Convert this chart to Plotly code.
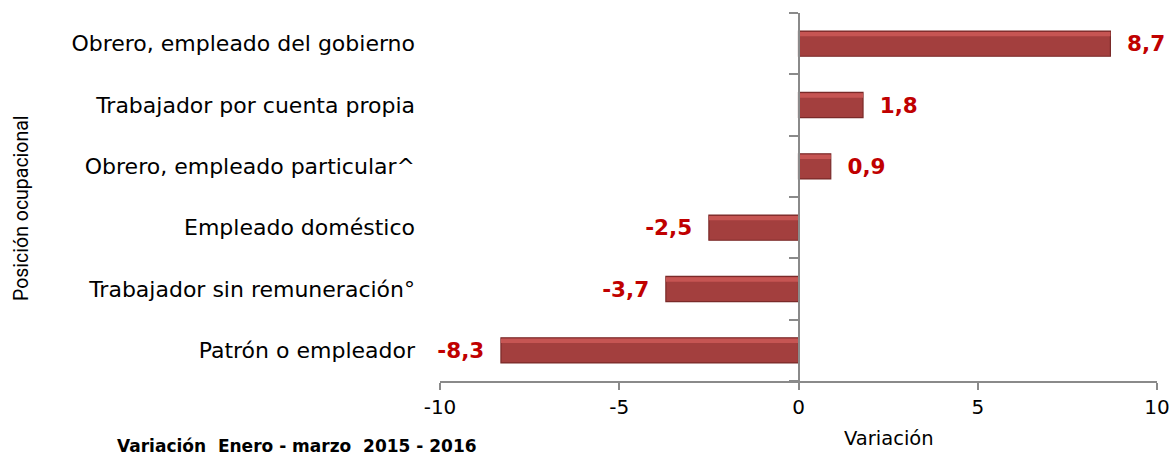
import plotly.graph_objects as go

categories = [
    "Obrero, empleado del gobierno",
    "Trabajador por cuenta propia",
    "Obrero, empleado particular^",
    "Empleado doméstico",
    "Trabajador sin remuneración°",
    "Patrón o empleador",
]
values = [8.7, 1.8, 0.9, -2.5, -3.7, -8.3]
x_ticks = [-10, -5, 0, 5, 10]
x_ticktext = ["-10", "-5", "0", "5", "10"]
boundaries = [-0.5, 0.5, 1.5, 2.5, 3.5, 4.5, 5.5]

NB = "\u00a0"
labels = []
for v in values:
    s = "<b>" + f"{v:.1f}".replace(".", ",") + "</b>"
    labels.append(NB * 2 + s if v >= 0 else s + NB * 2)

W, H = 1173, 458
L, R, T, B = 440, 16, 13, 77
pw, ph = W - L - R, H - T - B

def px(x):
    return (x - L) / pw

def py(y):
    return (H - B - y) / ph

fig = go.Figure()
fig.add_trace(go.Bar(
    y=categories, x=values, orientation="h",
    marker=dict(color="#A33F3E", line=dict(color="#7A2A29", width=1.2)),
    text=labels, textposition="outside", constraintext="none",
    textfont=dict(color="#C00000", size=21.5, family="DejaVu Sans"),
    cliponaxis=False, width=0.41, hoverinfo="x+y",
))
# bevel highlight along the top edge of each bar
fig.add_trace(go.Bar(
    y=categories, x=values, orientation="h",
    marker=dict(color="#C65553", line=dict(width=0)),
    width=0.07, offset=-0.19, hoverinfo="skip", showlegend=False,
))
fig.add_trace(go.Scatter(x=[None], y=[None], yaxis="y2", showlegend=False, hoverinfo="skip"))

fig.update_layout(
    width=W, height=H,
    barmode="overlay",
    margin=dict(l=L, r=R, t=T, b=B, autoexpand=False),
    paper_bgcolor="white", plot_bgcolor="white",
    showlegend=False,
    font=dict(family="DejaVu Sans", color="#000000"),
    xaxis=dict(
        range=[-10, 10], tickvals=x_ticks, ticktext=x_ticktext,
        showgrid=False, zeroline=False, automargin=False,
        showline=True, linecolor="#8A8A8A", linewidth=1.5,
        ticks="outside", ticklen=7, tickcolor="#8A8A8A", tickwidth=1.5,
        tickfont=dict(size=20, family="DejaVu Sans"),
    ),
    yaxis=dict(
        categoryorder="array", categoryarray=categories,
        autorange="reversed", showgrid=False, zeroline=False, automargin=False,
        showline=False, ticks="", ticklabelstandoff=24,
        tickfont=dict(size=22, family="DejaVu Sans"),
    ),
    yaxis2=dict(
        overlaying="y", anchor="free", position=0.5, side="left",
        range=[5.5, -0.5], tickvals=boundaries, showticklabels=False,
        showgrid=False, zeroline=False, showline=True, automargin=False,
        linecolor="#8A8A8A", linewidth=1.5,
        ticks="outside", ticklen=9, tickcolor="#8A8A8A", tickwidth=1.5,
    ),
    annotations=[
        dict(text="Posición ocupacional", textangle=-90, x=px(21), y=py(208),
             xref="paper", yref="paper", xanchor="center", yanchor="middle",
             showarrow=False, font=dict(size=19.5, family="Roboto")),
        dict(text="Variación", x=px(889), y=py(438),
             xref="paper", yref="paper", xanchor="center", yanchor="middle",
             showarrow=False, font=dict(size=19.5, family="DejaVu Sans")),
        dict(text="<b>Variación" + NB * 2 + "Enero - marzo" + NB * 2 + "2015 - 2016</b>",
             x=px(297), y=py(446),
             xref="paper", yref="paper", xanchor="center", yanchor="middle",
             showarrow=False, font=dict(size=17, family="DejaVu Sans")),
    ],
)

fig.write_html("out.html", config={"displayModeBar": False},
               post_script="document.body.style.margin='0';")
